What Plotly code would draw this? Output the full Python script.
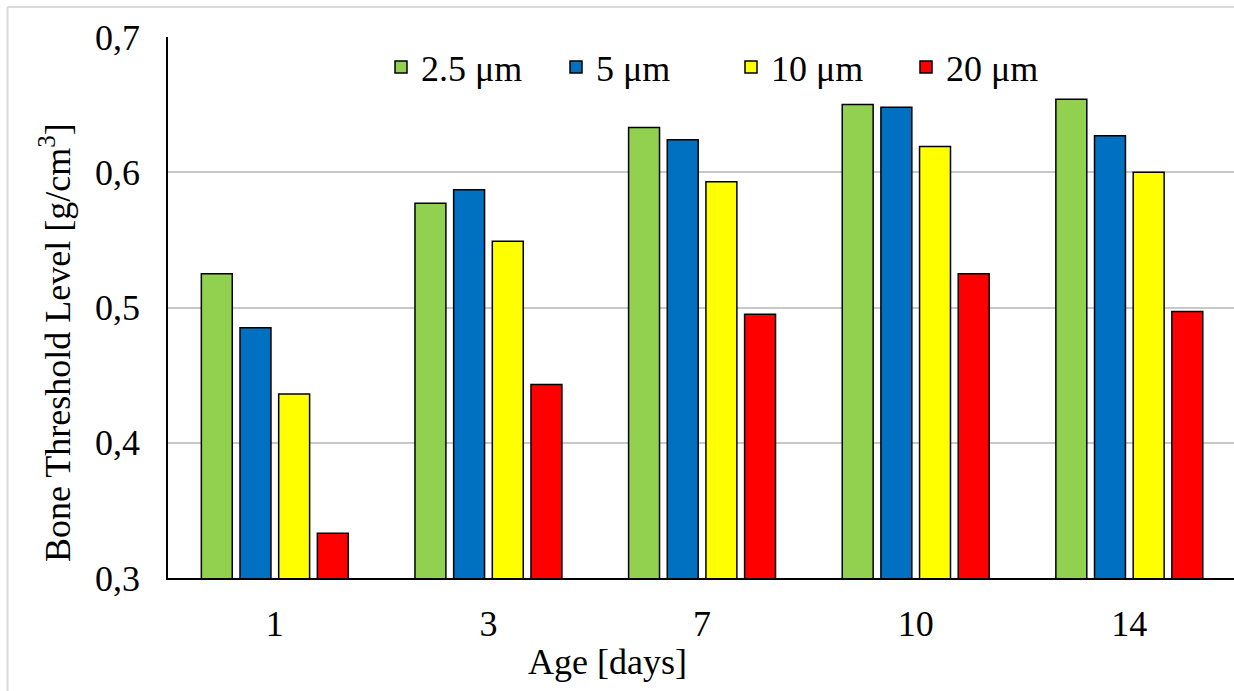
import plotly.graph_objects as go

ages = ["1", "3", "7", "10", "14"]
series_names = ["2.5 μm", "5 μm", "10 μm", "20 μm"]
v_2_5 = [0.525, 0.577, 0.633, 0.650, 0.654]
v_5 = [0.485, 0.587, 0.624, 0.648, 0.627]
v_10 = [0.436, 0.549, 0.593, 0.619, 0.600]
v_20 = [0.333, 0.443, 0.495, 0.525, 0.497]
series_values = [v_2_5, v_5, v_10, v_20]
colors = ["#92D050", "#0070C0", "#FFFF00", "#FF0000"]
y_ticks = [0.3, 0.4, 0.5, 0.6, 0.7]

FONT = "Liberation Serif"

fig = go.Figure()
for name, vals, col in zip(series_names, series_values, colors):
    fig.add_trace(go.Bar(
        x=ages, y=vals, name=name,
        marker=dict(color=col, line=dict(color="black", width=1.5)),
    ))

W, H = 1234, 691
L, R, T, B = 168, 0, 37, 113
pw, ph = W - L - R, H - T - B

def px(xp):
    return (xp - L) / pw

def py(yp):
    return (H - B - yp) / ph

fig.update_layout(
    width=W, height=H,
    margin=dict(l=L, r=R, t=T, b=B),
    paper_bgcolor="white", plot_bgcolor="white",
    separators=",.",
    barmode="group", bargap=0.276, bargroupgap=0.2,
    font=dict(family=FONT, size=36, color="black"),
    showlegend=True,
    legend=dict(
        orientation="h", x=px(381), xanchor="left", y=py(67), yanchor="middle",
        font=dict(family=FONT, size=36, color="black"),
        bgcolor="rgba(0,0,0,0)", entrywidth=130, entrywidthmode="pixels",
    ),
    xaxis=dict(
        type="category", range=[-0.5, 4.49],
        showline=True, linecolor="black", linewidth=1.5,
        showgrid=False, ticks="", ticklabelstandoff=13,
        tickfont=dict(family=FONT, size=36, color="black"),
    ),
    yaxis=dict(
        range=[0.3, 0.7], tickvals=y_ticks, tickformat=".1f",
        showline=True, linecolor="black", linewidth=1.5,
        showgrid=True, gridcolor="#C8C8C8", gridwidth=1.5,
        zeroline=False, ticks="", ticklabelstandoff=19,
        tickfont=dict(family=FONT, size=36, color="black"),
    ),
    annotations=[
        dict(text="Bone Threshold Level [g/cm<sup>3</sup>]", textangle=-90,
             xref="paper", yref="paper", x=px(55), y=py(343),
             xanchor="center", yanchor="middle", showarrow=False,
             font=dict(family=FONT, size=36, color="black")),
        dict(text="Age [days]",
             xref="paper", yref="paper", x=px(607), y=py(662),
             xanchor="center", yanchor="middle", showarrow=False,
             font=dict(family=FONT, size=36, color="black")),
    ],
    shapes=[
        dict(type="line", xref="paper", yref="paper",
             x0=px(7.5), x1=px(1240), y0=py(7), y1=py(7),
             line=dict(color="#D9D9D9", width=2)),
        dict(type="line", xref="paper", yref="paper",
             x0=px(7.5), x1=px(7.5), y0=py(7), y1=py(700),
             line=dict(color="#D9D9D9", width=2)),
    ],
)

fig.write_html("out.html")
